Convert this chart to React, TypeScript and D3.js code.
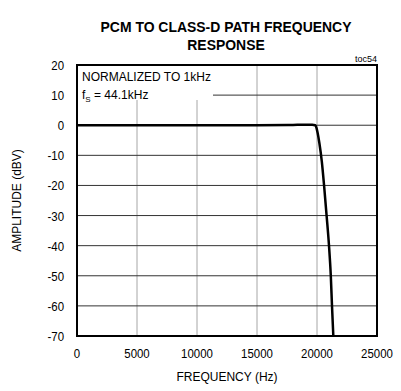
import * as d3 from "d3";
import { useEffect, useRef } from "react";

// frequency response
const freqHz = [0, 5000, 10000, 15000, 18000, 19000, 19600, 19850, 19950, 20050, 20200, 20400, 20600, 20800, 21000, 21150, 21250, 21360];
const ampDbv = [0, 0, 0, 0, 0.1, 0.15, 0.15, 0, -0.8, -2.5, -6, -12, -20.5, -30, -40, -50, -60, -70];
const xTicks = [0, 5000, 10000, 15000, 20000, 25000];
const yTicks = [20, 10, 0, -10, -20, -30, -40, -50, -60, -70];

const FONT = "'Liberation Sans', Arial, sans-serif";

export default function App() {
  const svgRef = useRef<SVGSVGElement | null>(null);

  useEffect(() => {
    const svg = d3.select(svgRef.current);
    svg.selectAll("*").remove();

    const width = 401;
    const height = 391;
    const margin = { top: 65, right: 24, bottom: 55, left: 77 };

    const x = d3.scaleLinear().domain([0, 25000]).range([margin.left, width - margin.right]);
    const y = d3.scaleLinear().domain([-70, 20]).range([height - margin.bottom, margin.top]);

    // title (narrow bold look)
    const title = svg.append("g").attr("transform", "translate(226,0) scale(0.9,1)");
    const tt = title.append("text")
      .attr("text-anchor", "middle")
      .attr("font-family", FONT)
      .attr("font-weight", "bold")
      .attr("font-size", 15.5)
      .attr("fill", "#000");
    tt.append("tspan").attr("x", 0).attr("y", 32).text("PCM TO CLASS-D PATH FREQUENCY");
    tt.append("tspan").attr("x", 0).attr("y", 50).text("RESPONSE");

    // vertical grid (light)
    svg.append("g")
      .selectAll("line")
      .data(xTicks.slice(1, -1))
      .join("line")
      .attr("x1", (d) => x(d))
      .attr("x2", (d) => x(d))
      .attr("y1", (d) => (d <= 10000 ? 100 : y(20)))
      .attr("y2", y(-70))
      .attr("stroke", "#a6a6a6")
      .attr("stroke-width", 1);

    // horizontal grid (dark)
    svg.append("g")
      .selectAll("line")
      .data(yTicks.slice(1, -1))
      .join("line")
      .attr("x1", (d) => (d === 10 ? 213 : x(0)))
      .attr("x2", x(25000))
      .attr("y1", (d) => y(d))
      .attr("y2", (d) => y(d))
      .attr("stroke", "#333")
      .attr("stroke-width", 1);

    // response curve
    const line = d3.line<number>()
      .x((_, i) => x(freqHz[i]))
      .y((d) => y(d))
      .curve(d3.curveMonotoneX);
    svg.append("path")
      .datum(ampDbv)
      .attr("d", line)
      .attr("fill", "none")
      .attr("stroke", "#000")
      .attr("stroke-width", 2.5);

    // frame
    svg.append("rect")
      .attr("x", x(0))
      .attr("y", y(20))
      .attr("width", x(25000) - x(0))
      .attr("height", y(-70) - y(20))
      .attr("fill", "none")
      .attr("stroke", "#000")
      .attr("stroke-width", 2);

    // tick labels
    svg.append("g")
      .selectAll("text")
      .data(yTicks)
      .join("text")
      .attr("transform", (d) => `translate(64,${y(d) + 5}) scale(0.88,1)`)
      .attr("text-anchor", "end")
      .attr("font-family", FONT)
      .attr("font-size", 13)
      .text((d) => d);

    svg.append("g")
      .selectAll("text")
      .data(xTicks)
      .join("text")
      .attr("transform", (d) => `translate(${x(d)},358) scale(0.88,1)`)
      .attr("text-anchor", "middle")
      .attr("font-family", FONT)
      .attr("font-size", 13)
      .text((d) => d);

    // axis titles
    svg.append("text")
      .attr("x", x(12500))
      .attr("y", 381)
      .attr("text-anchor", "middle")
      .attr("font-family", FONT)
      .attr("font-size", 12)
      .text("FREQUENCY (Hz)");

    svg.append("text")
      .attr("transform", `translate(21,${(y(20) + y(-70)) / 2}) rotate(-90)`)
      .attr("text-anchor", "middle")
      .attr("font-family", FONT)
      .attr("font-size", 12)
      .text("AMPLITUDE (dBV)");

    // annotations
    svg.append("text")
      .attr("x", x(25000))
      .attr("y", 62)
      .attr("text-anchor", "end")
      .attr("font-family", FONT)
      .attr("font-size", 9)
      .text("toc54");

    svg.append("text")
      .attr("x", 82)
      .attr("y", 81)
      .attr("font-family", FONT)
      .attr("font-size", 12)
      .text("NORMALIZED TO 1kHz");

    const fs = svg.append("text")
      .attr("x", 82)
      .attr("y", 99)
      .attr("font-family", FONT)
      .attr("font-size", 12);
    fs.append("tspan").text("f");
    fs.append("tspan").attr("font-size", 8).attr("dy", 3).text("S");
    fs.append("tspan").attr("dy", -3).text(" = 44.1kHz");
  }, []);

  return (
    <svg
      ref={svgRef}
      width={401}
      height={391}
      style={{ position: "absolute", left: 0, top: 0, background: "#fff" }}
    />
  );
}
